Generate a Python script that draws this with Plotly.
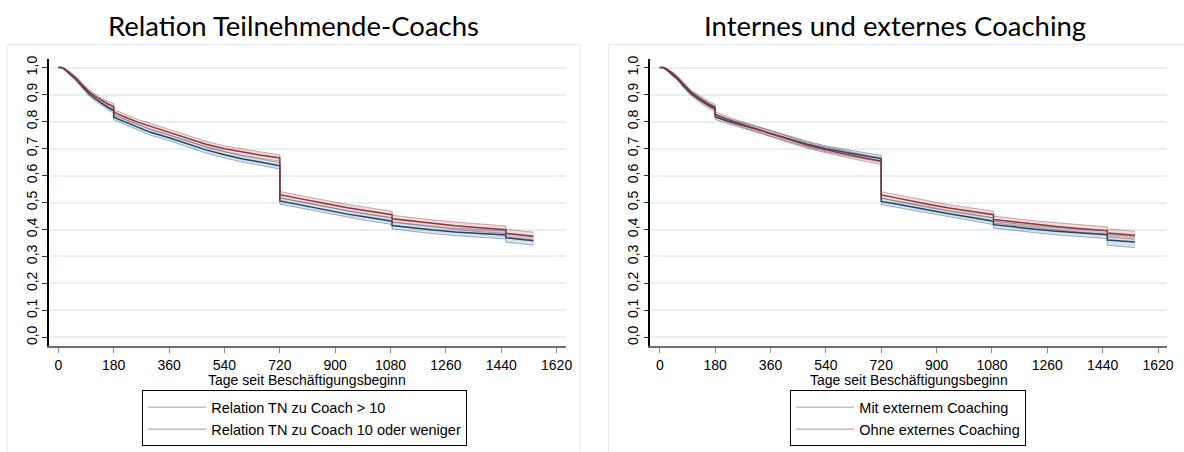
import plotly.graph_objects as go

# ---------------- data ----------------
days = [0, 10, 20, 40, 60, 80, 100, 120, 140, 160, 180, 180, 220, 260, 300, 360,
        420, 480, 540, 600, 660, 720, 720, 760, 820, 880, 940, 1000, 1060, 1085,
        1085, 1150, 1220, 1290, 1360, 1430, 1455, 1455, 1500, 1545]

# Left panel: Relation Teilnehmende-Coachs
left_gt10 = [1.0, 1.0, 0.994, 0.975, 0.953, 0.927, 0.902, 0.884, 0.868, 0.853,
             0.840, 0.816, 0.797, 0.778, 0.760, 0.740, 0.718, 0.695, 0.677, 0.661,
             0.649, 0.636, 0.506, 0.497, 0.484, 0.470, 0.457, 0.446, 0.436, 0.431,
             0.415, 0.406, 0.398, 0.391, 0.386, 0.382, 0.380, 0.369, 0.364, 0.358]
left_le10 = [1.0, 1.0, 0.995, 0.978, 0.958, 0.933, 0.910, 0.893, 0.878, 0.866,
             0.856, 0.835, 0.815, 0.797, 0.782, 0.760, 0.737, 0.716, 0.699, 0.686,
             0.675, 0.665, 0.529, 0.520, 0.506, 0.494, 0.481, 0.470, 0.460, 0.455,
             0.440, 0.431, 0.422, 0.414, 0.407, 0.401, 0.399, 0.386, 0.380, 0.375]
left_gt10_ci = [0.0, 0.001, 0.003, 0.005, 0.006, 0.007, 0.008, 0.009, 0.009, 0.010,
                0.010, 0.010, 0.010, 0.011, 0.011, 0.011, 0.011, 0.012, 0.012, 0.012,
                0.012, 0.012, 0.012, 0.012, 0.012, 0.012, 0.013, 0.013, 0.013, 0.013,
                0.013, 0.013, 0.014, 0.014, 0.014, 0.015, 0.015, 0.016, 0.016, 0.016]
left_le10_ci = [0.0, 0.001, 0.003, 0.005, 0.006, 0.007, 0.008, 0.009, 0.009, 0.010,
                0.010, 0.010, 0.010, 0.010, 0.011, 0.011, 0.011, 0.011, 0.011, 0.012,
                0.012, 0.012, 0.012, 0.012, 0.012, 0.012, 0.012, 0.013, 0.013, 0.013,
                0.013, 0.013, 0.013, 0.014, 0.014, 0.014, 0.014, 0.015, 0.015, 0.015]

# Right panel: Internes und externes Coaching
right_mit = [1.0, 1.0, 0.994, 0.976, 0.955, 0.928, 0.905, 0.888, 0.872, 0.858,
             0.847, 0.818, 0.802, 0.788, 0.776, 0.756, 0.736, 0.716, 0.699, 0.686,
             0.674, 0.663, 0.504, 0.496, 0.483, 0.470, 0.458, 0.447, 0.437, 0.431,
             0.418, 0.409, 0.401, 0.394, 0.388, 0.383, 0.381, 0.361, 0.357, 0.354]
right_ohne = [1.0, 1.0, 0.996, 0.980, 0.960, 0.934, 0.911, 0.894, 0.878, 0.864,
              0.853, 0.826, 0.808, 0.792, 0.778, 0.756, 0.733, 0.712, 0.695, 0.680,
              0.666, 0.653, 0.528, 0.519, 0.505, 0.492, 0.480, 0.469, 0.459, 0.455,
              0.437, 0.428, 0.419, 0.411, 0.404, 0.398, 0.396, 0.387, 0.383, 0.379]
right_mit_ci = [0.0, 0.001, 0.003, 0.005, 0.006, 0.007, 0.008, 0.009, 0.009, 0.010,
                0.010, 0.010, 0.010, 0.010, 0.010, 0.011, 0.011, 0.011, 0.011, 0.011,
                0.012, 0.012, 0.012, 0.012, 0.012, 0.012, 0.012, 0.013, 0.013, 0.013,
                0.013, 0.013, 0.013, 0.014, 0.014, 0.014, 0.015, 0.020, 0.020, 0.021]
right_ohne_ci = [0.0, 0.001, 0.003, 0.005, 0.006, 0.007, 0.008, 0.009, 0.009, 0.010,
                 0.010, 0.010, 0.010, 0.010, 0.011, 0.011, 0.011, 0.011, 0.011, 0.012,
                 0.012, 0.012, 0.012, 0.012, 0.012, 0.012, 0.012, 0.013, 0.013, 0.013,
                 0.013, 0.013, 0.013, 0.014, 0.014, 0.014, 0.014, 0.015, 0.015, 0.015]

titles = ["Relation Teilnehmende-Coachs", "Internes und externes Coaching"]
legend_left = ["Relation TN zu Coach > 10", "Relation TN zu Coach 10 oder weniger"]
legend_right = ["Mit externem Coaching", "Ohne externes Coaching"]
x_title = "Tage seit Beschäftigungsbeginn"
x_ticks = [0, 180, 360, 540, 720, 900, 1080, 1260, 1440, 1620]
y_ticks = [0.0, 0.1, 0.2, 0.3, 0.4, 0.5, 0.6, 0.7, 0.8, 0.9, 1.0]
y_ticktext = ["0,0", "0,1", "0,2", "0,3", "0,4", "0,5", "0,6", "0,7", "0,8", "0,9", "1,0"]

# ---------------- styling ----------------
W, H = 1184, 452
NAVY = "#1a476f"
MAROON = "#90353b"
NAVY_EDGE = "rgba(26,71,111,0.38)"
MAROON_EDGE = "rgba(144,53,59,0.40)"
NAVY_LEG = "#b9c6d3"
MAROON_LEG = "#d8b0b3"
NAVY_FILL = "rgba(26,71,111,0.16)"
MAROON_FILL = "rgba(144,53,59,0.17)"
GRID = "#e9f0f3"
FONT = "Liberation Sans, Arial, sans-serif"


def px_x(p):
    return p / W


def px_y(p):
    return (H - p) / H


fig = go.Figure()


def add_group(xaxis, yaxis, vals, ci, edge, fill, main, name):
    lower = [v - c for v, c in zip(vals, ci)]
    upper = [v + c for v, c in zip(vals, ci)]
    fig.add_trace(go.Scatter(x=days, y=lower, mode="lines", xaxis=xaxis, yaxis=yaxis,
                             line=dict(color=edge, width=1), showlegend=False,
                             hoverinfo="skip"))
    fig.add_trace(go.Scatter(x=days, y=upper, mode="lines", xaxis=xaxis, yaxis=yaxis,
                             line=dict(color=edge, width=1), fill="tonexty",
                             fillcolor=fill, showlegend=False, hoverinfo="skip"))
    fig.add_trace(go.Scatter(x=days, y=vals, mode="lines", xaxis=xaxis, yaxis=yaxis,
                             line=dict(color=main, width=1.5), showlegend=False,
                             name=name))


def add_legend_entry(xaxis, yaxis, legcol, name, legend):
    # legend-only entry (light line as in the reference legend)
    fig.add_trace(go.Scatter(x=[None], y=[None], mode="lines", xaxis=xaxis, yaxis=yaxis,
                             line=dict(color=legcol, width=1.5), name=name,
                             showlegend=True, legend=legend))


# legend entries first, so no area fill is linked to them
add_legend_entry("x", "y", NAVY_LEG, legend_left[0], "legend")
add_legend_entry("x", "y", MAROON_LEG, legend_left[1], "legend")
add_legend_entry("x2", "y2", NAVY_LEG, legend_right[0], "legend2")
add_legend_entry("x2", "y2", MAROON_LEG, legend_right[1], "legend2")

add_group("x", "y", left_gt10, left_gt10_ci, NAVY_EDGE, NAVY_FILL, NAVY, legend_left[0])
add_group("x", "y", left_le10, left_le10_ci, MAROON_EDGE, MAROON_FILL, MAROON, legend_left[1])
add_group("x2", "y2", right_mit, right_mit_ci, NAVY_EDGE, NAVY_FILL, NAVY, legend_right[0])
add_group("x2", "y2", right_ohne, right_ohne_ci, MAROON_EDGE, MAROON_FILL, MAROON, legend_right[1])

xr = [-30.4, 1649.3]
yr = [-0.0331, 1.0331]
ydom = [px_y(345.7), px_y(56)]

xaxis_common = dict(range=xr, tickvals=x_ticks, ticktext=[str(t) for t in x_ticks],
                    showgrid=False, zeroline=False, showline=True, linecolor="#6e6e6e",
                    linewidth=1.5, ticks="outside", ticklen=5, tickcolor="#8a8a8a",
                    tickwidth=1.2, tickfont=dict(family=FONT, size=14, color="#000"),
                    fixedrange=True)
yaxis_common = dict(range=yr, tickvals=y_ticks, ticktext=y_ticktext, tickangle=-90,
                    showgrid=True, gridcolor=GRID, gridwidth=1.5, zeroline=False,
                    showline=True, linecolor="#000", linewidth=1.5, ticks="outside",
                    ticklen=5, tickcolor="#333", tickwidth=1,
                    tickfont=dict(family=FONT, size=14, color="#000"), fixedrange=True)

legend_common = dict(xanchor="left", yanchor="top", bordercolor="#000", borderwidth=1,
                     bgcolor="white", font=dict(family=FONT, size=14.5, color="#000"),
                     itemwidth=58, tracegroupgap=0, traceorder="normal")

fig.update_layout(
    width=W, height=H,
    margin=dict(l=0, r=0, t=0, b=0),
    paper_bgcolor="white", plot_bgcolor="white",
    xaxis=dict(domain=[px_x(49.3), px_x(569)], anchor="y", **xaxis_common),
    yaxis=dict(domain=ydom, anchor="x", **yaxis_common),
    xaxis2=dict(domain=[px_x(654.3), px_x(1174)], anchor="y2", **xaxis_common),
    yaxis2=dict(domain=ydom, anchor="x2", **yaxis_common),
    legend=dict(x=px_x(143), y=px_y(390), **legend_common),
    legend2=dict(x=px_x(795), y=px_y(390), **legend_common),
    showlegend=True,
)

# panel frames
fig.add_shape(type="rect", xref="paper", yref="paper", x0=px_x(7.3), x1=px_x(583.3),
              y0=-0.02, y1=px_y(41.7), line=dict(color="#e4eaee", width=1), layer="below")
fig.add_shape(type="rect", xref="paper", yref="paper", x0=px_x(612.3), x1=1.02,
              y0=-0.02, y1=px_y(41.7), line=dict(color="#e4eaee", width=1), layer="below")

# titles
for cx, t in zip([295, 900], titles):
    fig.add_annotation(text=t, x=px_x(cx), y=px_y(23), xref="paper", yref="paper",
                       xanchor="center", yanchor="middle", showarrow=False,
                       font=dict(family="Lato, Open Sans, sans-serif", size=27.5, color="#000"))
# x-axis titles
for cx in [(49.3 + 569) / 2, (654.3 + 1174) / 2]:
    fig.add_annotation(text=x_title, x=px_x(cx), y=px_y(380), xref="paper", yref="paper",
                       xanchor="center", yanchor="middle", showarrow=False,
                       font=dict(family=FONT, size=14, color="#000"))

fig.write_html("out.html")
